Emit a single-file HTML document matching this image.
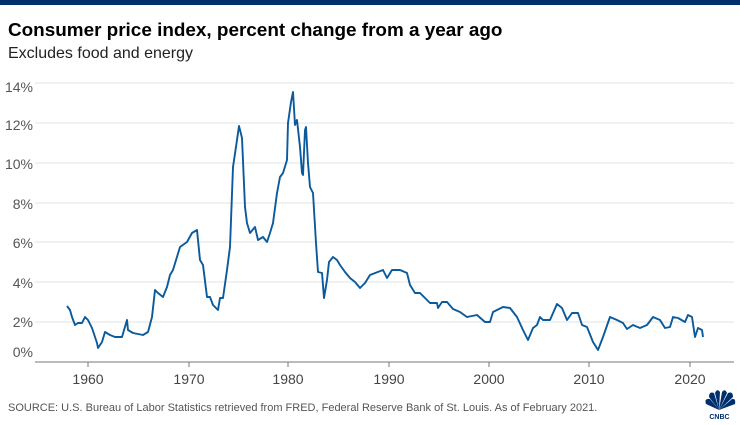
<!DOCTYPE html>
<html><head><meta charset="utf-8"><style>
html,body{margin:0;padding:0;background:#fff;}
body{width:740px;height:425px;overflow:hidden;position:relative;font-family:"Liberation Sans",sans-serif;}
</style></head><body>
<svg width="740" height="425" viewBox="0 0 740 425" xmlns="http://www.w3.org/2000/svg" style="position:absolute;left:0;top:0">
<rect x="0" y="0" width="740" height="5" fill="#002f6c"/>
<text x="8" y="36" font-family="Liberation Sans, sans-serif" font-weight="bold" font-size="18.9" fill="#000">Consumer price index, percent change from a year ago</text>
<text x="8" y="58" font-family="Liberation Sans, sans-serif" font-size="16" fill="#222">Excludes food and energy</text>
<g stroke="#e3e3e3" stroke-width="1">
<line x1="35" x2="734" y1="83" y2="83"/><line x1="35" x2="734" y1="123" y2="123"/><line x1="35" x2="734" y1="163" y2="163"/><line x1="35" x2="734" y1="203" y2="203"/><line x1="35" x2="734" y1="242" y2="242"/><line x1="35" x2="734" y1="282" y2="282"/><line x1="35" x2="734" y1="322" y2="322"/>
</g>
<g font-family="Liberation Sans, sans-serif" font-size="14" fill="#555" text-anchor="end">
<text x="33" y="92">14%</text><text x="33" y="130">12%</text><text x="33" y="169">10%</text><text x="33" y="209">8%</text><text x="33" y="248">6%</text><text x="33" y="288">4%</text><text x="33" y="327">2%</text><text x="33" y="357">0%</text>
</g>
<line x1="35" x2="734" y1="362" y2="362" stroke="#777" stroke-width="1"/>
<g stroke="#777" stroke-width="1">
<line x1="88" x2="88" y1="362" y2="367"/><line x1="189" x2="189" y1="362" y2="367"/><line x1="288" x2="288" y1="362" y2="367"/><line x1="389" x2="389" y1="362" y2="367"/><line x1="489" x2="489" y1="362" y2="367"/><line x1="589" x2="589" y1="362" y2="367"/><line x1="690" x2="690" y1="362" y2="367"/>
</g>
<g font-family="Liberation Sans, sans-serif" font-size="14" fill="#444" text-anchor="middle">
<text x="88" y="384">1960</text><text x="189" y="384">1970</text><text x="288" y="384">1980</text><text x="389" y="384">1990</text><text x="489" y="384">2000</text><text x="589" y="384">2010</text><text x="690" y="384">2020</text>
</g>
<polyline fill="none" stroke="#0a5a9c" stroke-width="1.9" stroke-linejoin="round" points="
67,306 70,310 72,317 75,325 78,323 82,323 85,317 88,320 92,328 97,343 98,348 102,342 105,332 110,335 115,337 122,337 127,320 128,330 133,333 143,335 148,332 152,317 155,290 158,293 163,297 167,287 170,275 173,270
180,247 187,242 192,233 197,230 198,240 200,260 203,265 207,297 210,297 213,305 218,310 220,298 223,298 227,270 230,247 233,167 237,140 239,126 242,138 245,207 247,223 250,233 255,227 258,240 263,237 267,242 270,233 273,223 277,193 280,177 283,173 287,160 288,123 291,102 293,92 295,125 297,120 300,147 302,173 303,175 305,130 306,127 308,163 310,187 313,193 316,243 318,272 322,273 324,298 327,280 329,262 333,257 337,260 340,265 345,272 350,278 355,282 360,288 365,283
370,275 383,270 387,278 392,270 400,270 407,273 410,285 415,293 420,293 430,303 437,303 438,308 442,302 447,302 453,309 460,312 467,317 477,315 485,322 490,322 493,312 503,307 510,308 517,317 523,330 528,340 533,328 537,325 540,317 543,320 550,320 557,304 562,308 567,320 572,313 578,313 582,325 587,327 593,342 598,350 603,337 610,317 617,320 623,323 627,329 633,325 640,328 647,325 653,317 660,320 665,328 670,327 673,317 678,318 685,322 688,315 692,317 695,337 698,328 702,330 703,337"/>
<text x="8" y="411" font-family="Liberation Sans, sans-serif" font-size="11" fill="#555">SOURCE: U.S. Bureau of Labor Statistics retrieved from FRED, Federal Reserve Bank of St. Louis. As of February 2021.</text>
<g fill="#002f6c">
<path d="M719,410 L706,404 Q704,398 710,399 Z"/>
<path d="M719,410 L709,397 Q709,391 714,393 Z"/>
<path d="M719,410 L715,393 Q717,388 720,392 Z"/>
<path d="M719,410 L722,392 Q725,388 727,393 Z"/>
<path d="M719,410 L728,393 Q733,391 733,397 Z"/>
<path d="M719,410 L732,399 Q736,398 735,404 Z"/>
<text x="719.5" y="419" font-family="Liberation Sans, sans-serif" font-weight="bold" font-size="7" text-anchor="middle">CNBC</text>
</g>
</svg>
</body></html>
